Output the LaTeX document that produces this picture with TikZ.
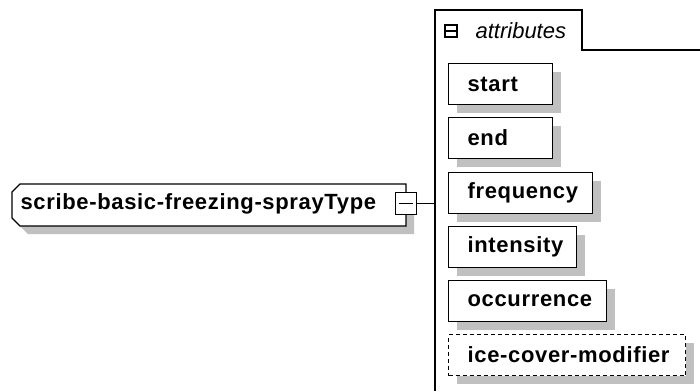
\documentclass[tikz,border=0pt]{standalone}
\usepackage{fontspec}
\setmainfont{Liberation Sans}
\newfontfamily\boxfont[LetterSpace=3]{Liberation Sans}
\usetikzlibrary{shadows}
\definecolor{shadowgray}{RGB}{192,192,192}
\begin{document}
\begin{tikzpicture}[x=1pt,y=-1pt,line width=1.2pt,
  labelfont/.style={font=\boxfont\fontsize{22}{25}\selectfont\bfseries},
  attrbox/.style={draw, fill=white, anchor=north west, minimum height=41pt,
    inner xsep=19pt, inner ysep=0pt, align=left, labelfont,
    general shadow={fill=shadowgray, shadow xshift=8pt, shadow yshift=-8pt}},
  optbox/.style={attrbox, dashed, dash pattern=on 4pt off 3pt},
  minusbox/.style={draw, fill=white, inner sep=0pt, minimum width=#1, minimum height=#1},
  conn/.style={draw, line width=1.2pt}]
\useasboundingbox (0,0) rectangle (700,391);
% main type node
\fill[shadowgray] (28,192) -- (414,192) -- (414,234) -- (28,234) -- (20,226) -- (20,200) -- cycle;
\draw[fill=white] (20,184) -- (406,184) -- (406,226) -- (20,226) -- (12,218) -- (12,192) -- cycle;
\node[anchor=west, inner sep=0pt, labelfont] (main) at (20,204) {scribe-basic-freezing-sprayType};
\node[minusbox=21.5pt] (mb) at (406,203.5) {};
\draw ([xshift=4pt]mb.west) -- ([xshift=-4pt]mb.east);
% attributes container
\coordinate (cl) at (435,203.5);
\draw (700,50) -- (582,50) -- (582,10) -- (435,10) -- (435,391);
\node[minusbox=12pt] (amb) at (451,31) {};
\draw ([xshift=2pt]amb.west) -- ([xshift=-2pt]amb.east);
\node[anchor=west, inner sep=0pt, font=\fontsize{22}{25}\selectfont\itshape] (attrlabel) at (475,31) {attributes};
\draw[conn] (mb.east) -- (cl);
% attribute boxes
\node[attrbox, text width=66pt] (start) at (448,63) {start};
\node[attrbox, text width=66pt] (end) at (448,117) {end};
\node[attrbox, text width=106pt] (frequency) at (448,172) {frequency};
\node[attrbox, text width=90pt] (intensity) at (448,226) {intensity};
\node[attrbox, text width=120pt] (occurrence) at (448,280) {occurrence};
\node[optbox, text width=199pt] (icecover) at (448,334) {\mbox{ice-cover-modifier}};
\end{tikzpicture}
\end{document}
